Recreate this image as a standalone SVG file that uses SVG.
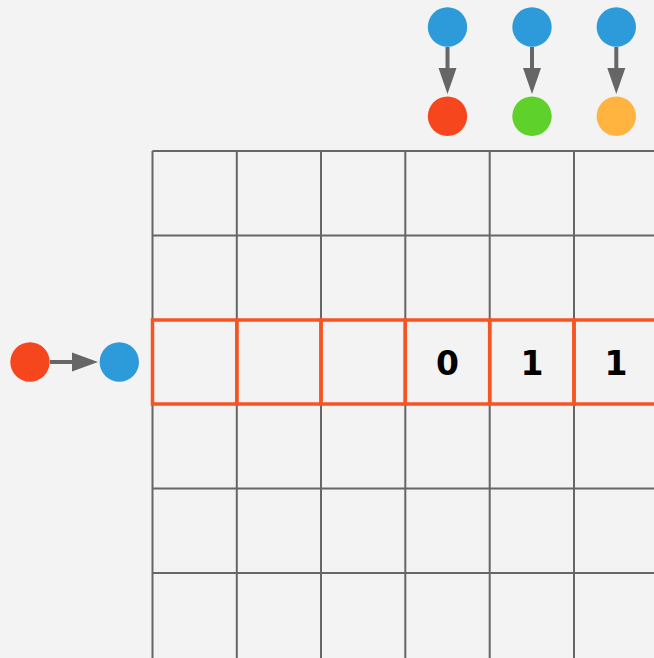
<svg xmlns="http://www.w3.org/2000/svg" width="654" height="658" viewBox="0 0 654 658">
<style>
.grid{stroke:#666;stroke-width:2;fill:none}
.hl{stroke:#F65423;stroke-width:3.5;fill:none}
.blue{fill:#2D9AD9}
.red{fill:#F5461E}
.green{fill:#5FD12B}
.orange{fill:#FFB440}
.shaft{stroke:#666;stroke-width:4}
.head{fill:#666}
.lbl{font-family:"DejaVu Sans","Open Sans",sans-serif;font-weight:bold;font-size:33px;fill:#000;text-anchor:middle;dominant-baseline:central}
</style>
<rect width="654" height="658" fill="#F3F3F3"/>
<g id="grid" class="grid">
<path d="M152.5,151V658M236.8,151V658M321,151V658M405.3,151V658M489.7,151V658M574,151V658"/>
<path d="M152.5,151H654M152.5,235.5H654M152.5,320H654M152.5,404H654M152.5,488.5H654M152.5,573H654"/>
</g>
<g id="row" class="hl">
<rect x="152.5" y="320" width="84.3" height="84"/>
<rect x="236.8" y="320" width="84.2" height="84"/>
<rect x="321" y="320" width="84.3" height="84"/>
<rect x="405.3" y="320" width="84.4" height="84"/>
<rect x="489.7" y="320" width="84.3" height="84"/>
<rect x="574" y="320" width="84.3" height="84"/>
</g>
<g id="labels">
<text class="lbl" x="447.5" y="363">0</text>
<text class="lbl" x="532" y="363">1</text>
<text class="lbl" x="616" y="363">1</text>
</g>
<g id="connectors">
<line class="shaft" x1="447.5" y1="47" x2="447.5" y2="70"/><polygon class="head" points="438.5,68 456.5,68 447.5,94"/>
<line class="shaft" x1="532" y1="47" x2="532" y2="70"/><polygon class="head" points="523,68 541,68 532,94"/>
<line class="shaft" x1="616.3" y1="47" x2="616.3" y2="70"/><polygon class="head" points="607.3,68 625.3,68 616.3,94"/>
<line class="shaft" x1="50" y1="362" x2="74" y2="362"/><polygon class="head" points="72,352.5 72,371.5 98,362"/>
</g>
<g id="top-blue-1"><circle class="blue" cx="447.5" cy="27" r="19.7"/></g>
<g id="top-blue-2"><circle class="blue" cx="532" cy="27" r="19.7"/></g>
<g id="top-blue-3"><circle class="blue" cx="616.3" cy="27" r="19.7"/></g>
<g id="top-red"><circle class="red" cx="447.5" cy="116.3" r="19.7"/></g>
<g id="top-green"><circle class="green" cx="532" cy="116.3" r="19.7"/></g>
<g id="top-orange"><circle class="orange" cx="616.3" cy="116.3" r="19.7"/></g>
<g id="left-red"><circle class="red" cx="30" cy="362" r="19.7"/></g>
<g id="left-blue"><circle class="blue" cx="119.3" cy="362" r="19.7"/></g>
</svg>
